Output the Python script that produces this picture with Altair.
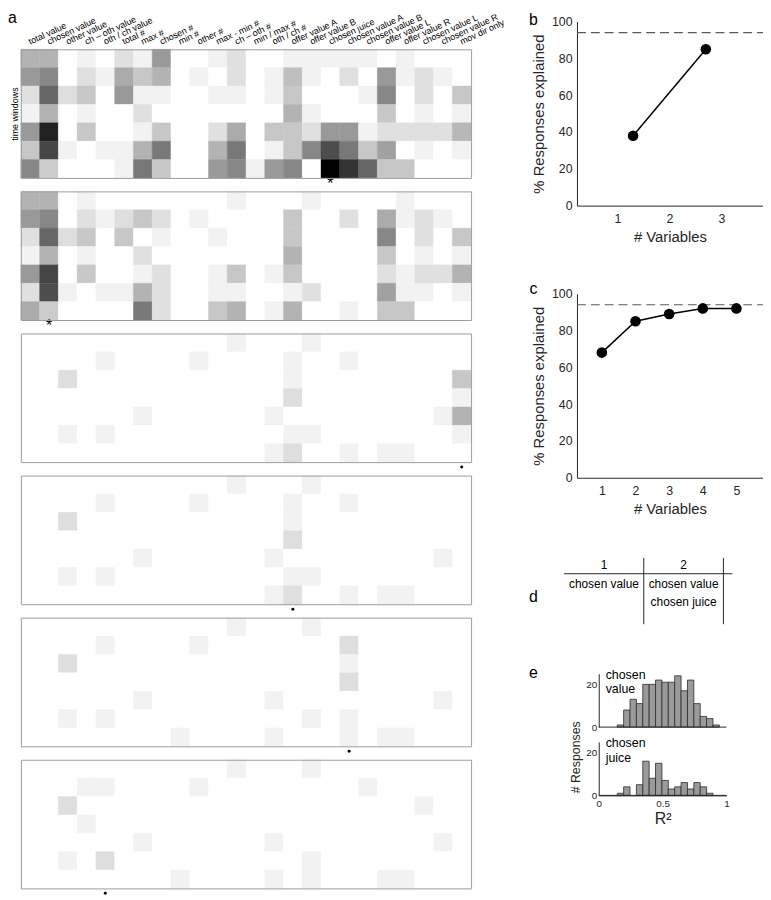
import altair as alt
import pandas as pd

FONT = "Liberation Sans"
INK = "#262626"
FRAME = "#9c9c9c"
W, H = 763, 892          # whole drawing area (view coordinates = page - 8)

# ---------------- data ----------------
variables = ["total value", "chosen value", "other value", "ch – oth value", "oth / ch value",
             "total #", "max #", "chosen #", "min #", "other #", "max - min #", "ch – oth #",
             "min / max #", "oth / ch #", "offer value A", "offer value B", "chosen juice",
             "chosen value A", "chosen value B", "offer value L", "offer value R",
             "chosen value L", "chosen value R", "mov dir only"]
windows = [0, 1, 2, 3, 4, 5, 6]

hm1 = [
    [0.3, 0.3, 0, 0.05, 0, 0.12, 0.05, 0.4, 0, 0, 0.05, 0.12, 0, 0, 0.05, 0.05, 0.05, 0.05, 0.05, 0, 0.05, 0, 0, 0],
    [0.4, 0.47, 0, 0.12, 0.05, 0.33, 0.22, 0.3, 0, 0.05, 0, 0.12, 0, 0.05, 0.25, 0.05, 0, 0.12, 0, 0.4, 0.05, 0.12, 0.05, 0],
    [0.12, 0.6, 0.13, 0.22, 0, 0.4, 0.05, 0.05, 0, 0, 0.05, 0.05, 0, 0.05, 0.22, 0, 0, 0, 0.05, 0.47, 0, 0.12, 0, 0.22],
    [0.05, 0.3, 0, 0.05, 0, 0, 0.12, 0, 0, 0, 0, 0, 0, 0, 0.3, 0.05, 0, 0, 0, 0.22, 0, 0.05, 0, 0.05],
    [0.4, 0.87, 0, 0.22, 0, 0, 0.05, 0.22, 0, 0, 0.12, 0.33, 0, 0.22, 0.22, 0.12, 0.4, 0.4, 0.05, 0.12, 0.12, 0.12, 0.12, 0.28],
    [0.22, 0.73, 0.05, 0, 0.05, 0.05, 0.3, 0.53, 0, 0, 0.3, 0.53, 0, 0.05, 0.22, 0.47, 0.7, 0.53, 0.22, 0.37, 0, 0.05, 0, 0.05],
    [0.47, 0.2, 0, 0, 0, 0.05, 0.53, 0.22, 0, 0, 0.4, 0.47, 0.05, 0.4, 0.47, 0, 1.0, 0.8, 0.6, 0.22, 0.22, 0, 0, 0],
]
hm2 = [
    [0.3, 0.3, 0, 0.05, 0, 0, 0, 0, 0, 0, 0, 0.05, 0, 0, 0, 0.05, 0, 0, 0, 0, 0.05, 0, 0, 0],
    [0.4, 0.47, 0, 0.12, 0.05, 0.13, 0.22, 0.12, 0, 0.05, 0, 0, 0, 0, 0.22, 0, 0, 0.12, 0, 0.33, 0.05, 0.12, 0.05, 0],
    [0.12, 0.6, 0.13, 0.22, 0, 0.22, 0, 0.05, 0, 0, 0.05, 0, 0, 0, 0.22, 0, 0, 0, 0, 0.47, 0, 0.12, 0, 0.22],
    [0.05, 0.3, 0, 0.05, 0, 0, 0.12, 0, 0, 0, 0, 0, 0, 0, 0.3, 0, 0, 0, 0, 0.22, 0, 0.05, 0, 0.05],
    [0.4, 0.73, 0, 0.22, 0, 0, 0.05, 0.12, 0, 0, 0.05, 0.22, 0, 0.05, 0.22, 0, 0, 0, 0, 0.12, 0.05, 0.12, 0.12, 0.3],
    [0.12, 0.7, 0.05, 0, 0.05, 0.05, 0.3, 0.12, 0, 0, 0.05, 0.05, 0, 0, 0.05, 0.12, 0, 0, 0, 0.37, 0.05, 0.05, 0, 0.05],
    [0.33, 0.2, 0, 0, 0, 0, 0.53, 0.12, 0, 0, 0.22, 0.3, 0, 0.05, 0.3, 0, 0, 0.05, 0, 0.22, 0.22, 0, 0, 0],
]
hm3 = [
    [0, 0, 0, 0, 0, 0, 0, 0, 0, 0, 0, 0.05, 0, 0, 0, 0.05, 0, 0, 0, 0, 0, 0, 0, 0],
    [0, 0, 0, 0, 0.05, 0, 0, 0, 0, 0.05, 0, 0, 0, 0, 0.05, 0, 0, 0.05, 0, 0, 0, 0, 0, 0],
    [0, 0, 0.13, 0, 0, 0, 0, 0, 0, 0, 0, 0, 0, 0, 0.05, 0, 0, 0, 0, 0, 0, 0, 0, 0.22],
    [0, 0, 0, 0, 0, 0, 0, 0, 0, 0, 0, 0, 0, 0, 0.13, 0, 0, 0, 0, 0, 0, 0, 0, 0.05],
    [0, 0, 0, 0, 0, 0, 0.05, 0, 0, 0, 0, 0, 0, 0.05, 0, 0, 0, 0, 0, 0, 0, 0, 0.05, 0.3],
    [0, 0, 0.05, 0, 0.05, 0, 0, 0, 0, 0, 0, 0, 0, 0, 0.05, 0.05, 0, 0, 0, 0, 0, 0, 0, 0.05],
    [0, 0, 0, 0, 0, 0, 0, 0, 0, 0, 0, 0, 0, 0.05, 0.13, 0, 0, 0.05, 0, 0.05, 0.05, 0, 0, 0],
]
hm4 = [
    [0, 0, 0, 0, 0, 0, 0, 0, 0, 0, 0, 0.05, 0, 0, 0, 0.05, 0, 0, 0, 0, 0, 0, 0, 0],
    [0, 0, 0, 0, 0.05, 0, 0, 0, 0, 0.05, 0, 0, 0, 0, 0.05, 0, 0, 0.05, 0, 0, 0, 0, 0, 0],
    [0, 0, 0.13, 0, 0, 0, 0, 0, 0, 0, 0, 0, 0, 0, 0.05, 0, 0, 0, 0, 0, 0, 0, 0, 0],
    [0, 0, 0, 0, 0, 0, 0, 0, 0, 0, 0, 0, 0, 0, 0.13, 0, 0, 0, 0, 0, 0, 0, 0, 0],
    [0, 0, 0, 0, 0, 0, 0.05, 0, 0, 0, 0, 0, 0, 0.05, 0, 0, 0, 0, 0, 0, 0, 0, 0.05, 0],
    [0, 0, 0.05, 0, 0.05, 0, 0, 0, 0, 0, 0, 0, 0, 0, 0.05, 0.05, 0, 0, 0, 0, 0, 0, 0, 0],
    [0, 0, 0, 0, 0, 0, 0, 0, 0, 0, 0, 0, 0, 0.05, 0.12, 0, 0, 0.05, 0, 0.05, 0.05, 0, 0, 0],
]
hm5 = [
    [0, 0, 0, 0, 0, 0, 0, 0, 0, 0, 0, 0.05, 0, 0, 0, 0.05, 0, 0, 0, 0, 0, 0, 0, 0],
    [0, 0, 0, 0, 0.05, 0, 0, 0, 0, 0.05, 0, 0, 0, 0, 0, 0, 0, 0.13, 0, 0, 0, 0, 0, 0],
    [0, 0, 0.13, 0, 0, 0, 0, 0, 0, 0, 0, 0, 0, 0, 0, 0, 0, 0.05, 0, 0, 0, 0, 0, 0],
    [0, 0, 0, 0, 0, 0, 0, 0, 0, 0, 0, 0, 0, 0, 0, 0, 0, 0.13, 0, 0, 0, 0, 0, 0],
    [0, 0, 0, 0, 0, 0, 0.05, 0, 0, 0, 0, 0, 0, 0.05, 0, 0, 0, 0, 0, 0, 0, 0, 0.05, 0],
    [0, 0, 0.05, 0, 0.05, 0, 0, 0, 0, 0, 0, 0, 0, 0, 0, 0.05, 0, 0.05, 0, 0, 0, 0, 0, 0],
    [0, 0, 0, 0, 0, 0, 0, 0, 0.05, 0, 0, 0, 0, 0.05, 0, 0, 0, 0.05, 0, 0.05, 0.05, 0, 0, 0],
]
hm6 = [
    [0, 0, 0, 0, 0, 0, 0, 0, 0, 0, 0, 0.05, 0, 0, 0, 0.05, 0, 0, 0, 0, 0, 0, 0, 0],
    [0, 0, 0, 0.05, 0.05, 0, 0, 0, 0, 0.05, 0, 0, 0, 0, 0, 0, 0, 0, 0.05, 0, 0, 0, 0, 0],
    [0, 0, 0.13, 0, 0, 0, 0, 0, 0, 0, 0, 0, 0, 0, 0, 0, 0, 0, 0, 0, 0, 0.05, 0, 0],
    [0, 0, 0, 0.05, 0, 0, 0, 0, 0, 0, 0, 0, 0, 0, 0, 0, 0, 0, 0, 0, 0, 0, 0, 0],
    [0, 0, 0, 0, 0, 0, 0.05, 0, 0, 0, 0, 0, 0, 0.05, 0, 0, 0, 0, 0, 0, 0, 0, 0.05, 0],
    [0, 0, 0.05, 0, 0.13, 0, 0, 0, 0, 0, 0, 0, 0, 0, 0, 0.05, 0, 0, 0, 0, 0, 0, 0, 0],
    [0, 0, 0, 0, 0, 0, 0, 0, 0.05, 0, 0, 0, 0, 0.05, 0, 0.05, 0, 0, 0, 0.05, 0.05, 0, 0, 0],
]
grids = [hm1, hm2, hm3, hm4, hm5, hm6]
marker_syms = ["*", "*", "•", "•", "•", "•"]
marker_cols = [16, 1, 23, 14, 17, 4]

b_vars = [1.3, 2.7]
b_pct = [38, 85]
c_vars = [1, 2, 3, 4, 5]
c_pct = [68, 85, 89, 92, 92]
ceiling = 94

table_cols = ["1", "2"]
table_col = ["1", "2", "1", "2", "2"]
table_row = [0, 0, 1, 1, 2]
table_text = ["1", "2", "chosen value", "chosen value", "chosen juice"]

bin_lo = [0.145, 0.195, 0.245, 0.295, 0.345, 0.395, 0.445, 0.495,
          0.545, 0.595, 0.645, 0.695, 0.745, 0.795, 0.845, 0.895]
bin_hi = [0.195, 0.245, 0.295, 0.345, 0.395, 0.445, 0.495, 0.545,
          0.595, 0.645, 0.695, 0.745, 0.795, 0.845, 0.895, 0.945]
value_counts = [1, 8, 13, 11, 20, 20, 22, 21, 21, 24, 17, 22, 11, 5, 4, 1]
juice_counts = [1, 4, 0, 5, 16, 8, 15, 7, 3, 4, 6, 3, 6, 4, 1, 0]

# ---------------- layout (pixels inside the drawing area) ----------------
HM_L, HM_R = 13, 468
HM_TOPS = [37, 180.6, 324.2, 467.8, 611.4, 755]
HM_H = 130
BX, BY = [575, 763], [195, 9]
CX, CY = [575, 763], [470, 284]
DX, DY = [562, 723], [558, 596]
EX, E1Y, E2Y = [597, 726], [722, 668], [791, 737]
LETTER_X = 531

gray = alt.Scale(domain=[0, 1], range=["#ffffff", "#000000"], interpolate="rgb")


def frame_axis(orient, offset, **kw):
    opts = dict(orient=orient, offset=offset, labels=False, ticks=False, grid=False,
                domain=True, domainColor=FRAME, domainWidth=1, title=None, zindex=1)
    opts.update(kw)
    return alt.Axis(**opts)


def text_at(t, x, y, size=16, align="center", baseline="alphabetic", **kw):
    return alt.Chart(pd.DataFrame({"t": [t]})).mark_text(
        font=FONT, fontSize=size, align=align, baseline=baseline, color="black", **kw).encode(
        x=alt.value(x), y=alt.value(y), text="t:N")


def heatmap(i):
    top = HM_TOPS[i]
    bot = top + HM_H
    df = pd.DataFrame([{"var": variables[c], "win": r, "v": v}
                       for r, row in enumerate(grids[i]) for c, v in enumerate(row)])
    xs = alt.Scale(domain=variables, range=[HM_L, HM_R], paddingInner=0, paddingOuter=0)
    ys = alt.Scale(domain=windows, range=[top, bot], paddingInner=0, paddingOuter=0)
    if i == 0:
        top_ax = frame_axis("top", -top, labels=True, labelAngle=335, labelAlign="left",
                            labelBaseline="alphabetic", labelPadding=5, labelFont=FONT,
                            labelFontSize=9, labelColor="black", labelOverlap=False,
                            labelLimit=200, labelFlush=False)
        left_ax = frame_axis("left", -HM_L, title="time windows", titleFont=FONT,
                             titleFontSize=9, titleFontWeight="normal", titleColor="black",
                             titlePadding=1)
    else:
        top_ax = frame_axis("top", -top)
        left_ax = frame_axis("left", -HM_L)
    X = alt.X("var:N", scale=xs, axis=top_ax)
    Y = alt.Y("win:O", scale=ys, axis=left_ax)
    cells = alt.Chart(df).mark_rect(strokeWidth=0.4).encode(
        x=X, y=Y,
        color=alt.Color("v:Q", scale=gray, legend=None),
        stroke=alt.Stroke("v:Q", scale=gray, legend=None))
    mdf = pd.DataFrame({"var": [variables[marker_cols[i]]], "sym": [marker_syms[i]]})
    if marker_syms[i] == "*":
        mk = alt.Chart(mdf).mark_text(font=FONT, fontSize=16, baseline="top", color="black").encode(
            x=X, y=alt.value(bot - 2), text="sym:N")
    else:
        mk = alt.Chart(mdf).mark_circle(size=9, color="black", opacity=1).encode(
            x=X, y=alt.value(bot + 5))
    ghost = alt.Chart(df).mark_rect(opacity=0).encode(
        x=alt.X("var:N", scale=xs, axis=frame_axis("bottom", bot - H)),
        y=alt.Y("win:O", scale=ys, axis=frame_axis("right", HM_R - W)))
    return alt.layer(alt.layer(cells, mk), ghost).resolve_scale(
        x="independent", y="independent").resolve_axis(x="independent", y="independent")


# ---------------- b, c ----------------
def axis_style(**kw):
    opts = dict(grid=False, ticks=False, domainColor=INK, labelColor=INK, titleColor=INK,
                labelFont=FONT, titleFont=FONT, titleFontWeight="normal", labelFlush=False)
    opts.update(kw)
    return alt.Axis(**opts)


def curve_panel(xv, yv, dom, xr, yr, ticks, ch, letter_y):
    df = pd.DataFrame({"n": xv, "pct": yv})
    X = alt.X("n:Q", scale=alt.Scale(domain=dom, range=xr, nice=False, zero=False),
              axis=axis_style(orient="bottom", offset=yr[0] - H, values=ticks, format="d",
                              title="# Variables", labelFontSize=12.5, titleFontSize=15,
                              labelPadding=7, titlePadding=5))
    Y = alt.Y("pct:Q", scale=alt.Scale(domain=[0, 100], range=yr, nice=False),
              axis=axis_style(orient="left", offset=-xr[0], values=[0, 20, 40, 60, 80, 100],
                              title="% Responses explained", labelFontSize=12.5,
                              titleFontSize=15, labelPadding=5, titlePadding=5))
    dash_df = pd.DataFrame({"n": [dom[0]], "n2": [dom[1]], "pct": [ceiling]})
    dash = alt.Chart(dash_df).mark_rule(color="#5a5a5a", strokeDash=[9, 5], strokeWidth=1.1).encode(
        x=X, x2="n2:Q", y=Y)
    line = alt.Chart(df).mark_line(color="black", strokeWidth=1.5).encode(x=X, y=Y)
    pts = alt.Chart(df).mark_circle(size=115, color="black", opacity=1).encode(x=X, y=Y)
    return alt.layer(dash, line, pts, text_at(ch, LETTER_X, letter_y))


b_panel = curve_panel(b_vars, b_pct, [0.22, 3.8], BX, BY, [1, 2, 3], "b", 12)
c_panel = curve_panel(c_vars, c_pct, [0.26, 5.79], CX, CY, [1, 2, 3, 4, 5], "c", 284)

# ---------------- d (table) ----------------
d_df = pd.DataFrame({"col": table_col, "row": table_row, "text": table_text})
d_scale = alt.Scale(domain=table_cols, range=DX, paddingInner=0, paddingOuter=0)
d_text = alt.Chart(d_df).mark_text(font=FONT, fontSize=12, color="black", baseline="middle").encode(
    x=alt.X("col:N", scale=d_scale, axis=None),
    y=alt.Y("row:Q", scale=alt.Scale(domain=[0, 2], range=DY), axis=None),
    text="text:N")
edge_df = pd.DataFrame({"col": ["2"]})
d_v1 = alt.Chart(edge_df).mark_rule(color=INK, strokeWidth=1).encode(
    x=alt.X("col:N", scale=d_scale, axis=None, bandPosition=0),
    y=alt.value(DY[0] - 7), y2=alt.value(DY[1] + 22))
d_v2 = alt.Chart(edge_df).mark_rule(color=INK, strokeWidth=1).encode(
    x=alt.X("col:N", scale=d_scale, axis=None, bandPosition=1),
    y=alt.value(DY[0] - 7), y2=alt.value(DY[1] + 22))
d_h = alt.Chart(edge_df).mark_rule(color=INK, strokeWidth=1).encode(
    x=alt.value(DX[0]), x2=alt.value(DX[1] + 9), y=alt.value(DY[0] + 9))
d_panel = alt.layer(d_h, d_v1, d_v2, d_text, text_at("d", LETTER_X, 596))

# ---------------- e (histograms) ----------------
ex = alt.Scale(domain=[0, 1], range=EX, nice=False, zero=False)
e_xaxis = axis_style(orient="bottom", offset=E2Y[0] - H, values=[0, 0.5, 1], format="~g",
                     title="R²", labelFontSize=10, titleFontSize=16, labelPadding=3,
                     titlePadding=2)


def e_yaxis(title):
    kw = dict(orient="left", offset=-EX[0], values=[0, 20], labelFontSize=10, labelPadding=2)
    if title:
        return axis_style(title=title, titleY=752, titleFontSize=12.5, titlePadding=3, **kw)
    return axis_style(title=None, **kw)


def hist_layer(counts, yrange, title, label, label_y):
    df = pd.DataFrame({"lo": bin_lo, "hi": bin_hi, "n": counts})
    X = alt.X("lo:Q", scale=ex, axis=e_xaxis)
    Y = alt.Y("n:Q", scale=alt.Scale(domain=[0, 25], range=yrange, nice=False), axis=e_yaxis(title))
    bars = alt.Chart(df).transform_filter("datum.n > 0").mark_rect(
        fill="#9a9a9a", stroke="#2b2b2b", strokeWidth=0.8).encode(
        x=X, x2="hi:Q", y=Y, y2=alt.datum(0))
    base = alt.Chart(pd.DataFrame({"lo": [0], "hi": [1], "n": [0]})).mark_rule(
        color=INK, strokeWidth=1).encode(x=X, x2="hi:Q", y=Y)
    lab = text_at(label, EX[0] + 7, label_y, size=12.5, align="left", baseline="top",
                  lineBreak="\n", lineHeight=15)
    return alt.layer(bars, base, lab)


e1 = hist_layer(value_counts, E1Y, "", "chosen\nvalue", 663)
e2 = hist_layer(juice_counts, E2Y, "# Responses", "chosen\njuice", 732)
e_panel = alt.layer(e1, e2, text_at("e", LETTER_X, 672)).resolve_scale(
    y="independent").resolve_axis(y="independent")

a_letter = text_at("a", 0, 10, align="left")

chart = alt.layer(
    *[heatmap(i) for i in range(6)], a_letter, b_panel, c_panel, d_panel, e_panel
).resolve_scale(x="independent", y="independent").resolve_axis(
    x="independent", y="independent"
).properties(
    width=W, height=H, padding=0, autosize=alt.AutoSizeParams(type="none"),
    view=alt.ViewBackground(stroke="transparent", strokeWidth=0)
).configure_view(stroke="transparent", strokeWidth=0).configure(font=FONT)

chart.save("out.html", embed_options={"renderer": "svg", "actions": False})
